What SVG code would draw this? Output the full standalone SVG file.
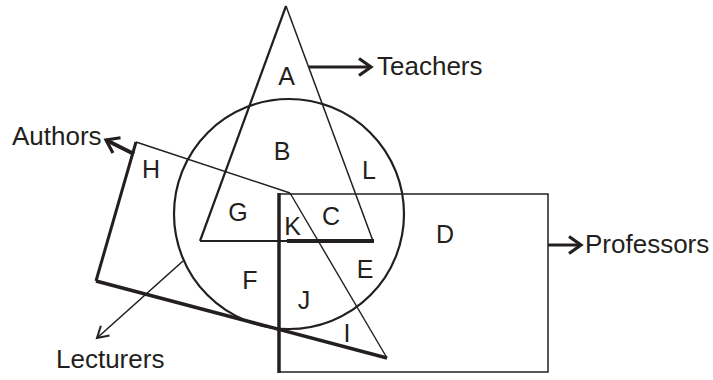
<svg xmlns="http://www.w3.org/2000/svg" width="713" height="380" viewBox="0 0 713 380">
<style>
.s{fill:none;stroke:#231f20;stroke-linejoin:miter;stroke-linecap:butt}
.t{font-family:"Liberation Sans",Arial,sans-serif;font-size:25px;fill:#231f20}
.n{font-size:26px}
.m{text-anchor:middle}
</style>
<defs>
<marker id="hv" markerUnits="userSpaceOnUse" markerWidth="30" markerHeight="30" viewBox="-15 -15 30 30" refX="0" refY="0" orient="auto">
<path d="M-12,-8.5 L0,0 L-12,8.5" fill="none" stroke="#231f20" stroke-width="3.2"/>
</marker>
<marker id="lt" markerUnits="userSpaceOnUse" markerWidth="30" markerHeight="30" viewBox="-15 -15 30 30" refX="0" refY="0" orient="auto">
<path d="M-11,-6.5 L0,0 L-11,6.5" fill="none" stroke="#231f20" stroke-width="2"/>
</marker>
</defs>
<rect width="713" height="380" fill="#fff"/>
<g id="lecturers-circle">
<circle class="s" cx="289" cy="214" r="115" stroke-width="2.2"/>
</g>
<g id="professors-rect">
<path class="s" d="M279,194 H548 V372 H279" stroke-width="1.5"/>
<line class="s" x1="279" y1="193" x2="279" y2="373" stroke-width="3.5"/>
</g>
<g id="teachers-triangle">
<line class="s" x1="286" y1="6" x2="200" y2="241" stroke-width="2.2"/>
<line class="s" x1="286" y1="6" x2="373" y2="241" stroke-width="1.5"/>
<line class="s" x1="200" y1="241" x2="287" y2="241" stroke-width="2.2"/>
<line class="s" x1="287" y1="241" x2="374" y2="241" stroke-width="3.8"/>
</g>
<g id="authors-quad">
<line class="s" x1="136" y1="142" x2="290" y2="193" stroke-width="1.4"/>
<line class="s" x1="290" y1="193" x2="387" y2="358" stroke-width="1.4"/>
<line class="s" x1="387" y1="358" x2="96" y2="281" stroke-width="3.5"/>
<line class="s" x1="96" y1="281" x2="136" y2="142" stroke-width="3"/>
</g>
<g id="connectors">
<line class="s" x1="309" y1="67" x2="371" y2="67" stroke-width="2.8" marker-end="url(#hv)"/>
<line class="s" x1="548" y1="245" x2="581" y2="245" stroke-width="2.8" marker-end="url(#hv)"/>
<line class="s" x1="134" y1="154" x2="106" y2="140" stroke-width="4" marker-end="url(#hv)"/>
<line class="s" x1="183" y1="261" x2="97" y2="338" stroke-width="1.6" marker-end="url(#lt)"/>
</g>
<g id="labels">
<text class="t n" x="377" y="75">Teachers</text>
<text class="t n" x="12" y="145">Authors</text>
<text class="t n" x="56" y="368">Lecturers</text>
<text class="t n" x="585" y="253">Professors</text>
</g>
<g id="regions">
<text class="t m" x="286.5" y="85">A</text>
<text class="t m" x="282" y="160">B</text>
<text class="t m" x="151" y="178">H</text>
<text class="t m" x="369" y="179">L</text>
<text class="t m" x="238" y="221">G</text>
<text class="t m" x="292.5" y="235">K</text>
<text class="t m" x="331" y="225">C</text>
<text class="t m" x="445" y="243">D</text>
<text class="t m" x="365" y="278">E</text>
<text class="t m" x="250" y="289">F</text>
<text class="t m" x="304" y="309">J</text>
<text class="t m" x="347" y="342">I</text>
</g>
</svg>
